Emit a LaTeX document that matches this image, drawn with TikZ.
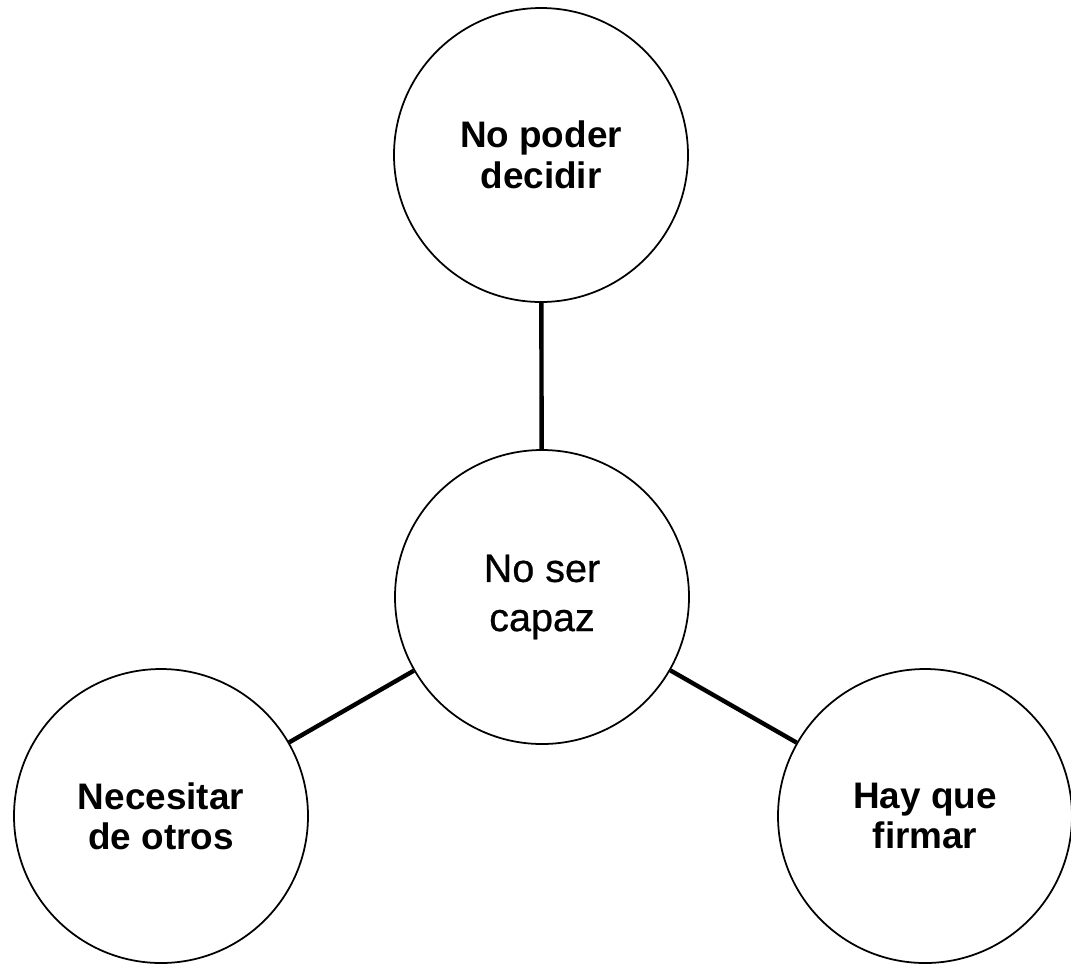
\documentclass[tikz,border=0pt]{standalone}
\usepackage{fontspec}
\setmainfont{Liberation Sans}
\begin{document}
\begin{tikzpicture}[
        bubble/.style={draw, circle, minimum size=5.88cm, inner sep=0pt, line width=1pt, align=center, font=\fontsize{21}{23}\selectfont\bfseries},
        link/.style={line width=2.5pt}
    ]
        \useasboundingbox (0,0) rectangle (21.42,-19.3);

        \node[bubble] (decidir) at (10.82,-3.10) {No poder\\decidir};
        \node[bubble, font=\fontsize{22.5}{28}\selectfont\addfontfeature{FakeBold=0.6}] (capaz) at (10.84,-11.94) {No ser\\capaz};
        \node[bubble] (otros) at (3.22,-16.32) {Necesitar\\de otros};
        \node[bubble] (firmar) at (18.5,-16.32) {Hay que\\firmar};

        \draw[link] (decidir) -- (capaz);
        \draw[link] (capaz) -- (otros);
        \draw[link] (capaz) -- (firmar);
    \end{tikzpicture}
\end{document}
